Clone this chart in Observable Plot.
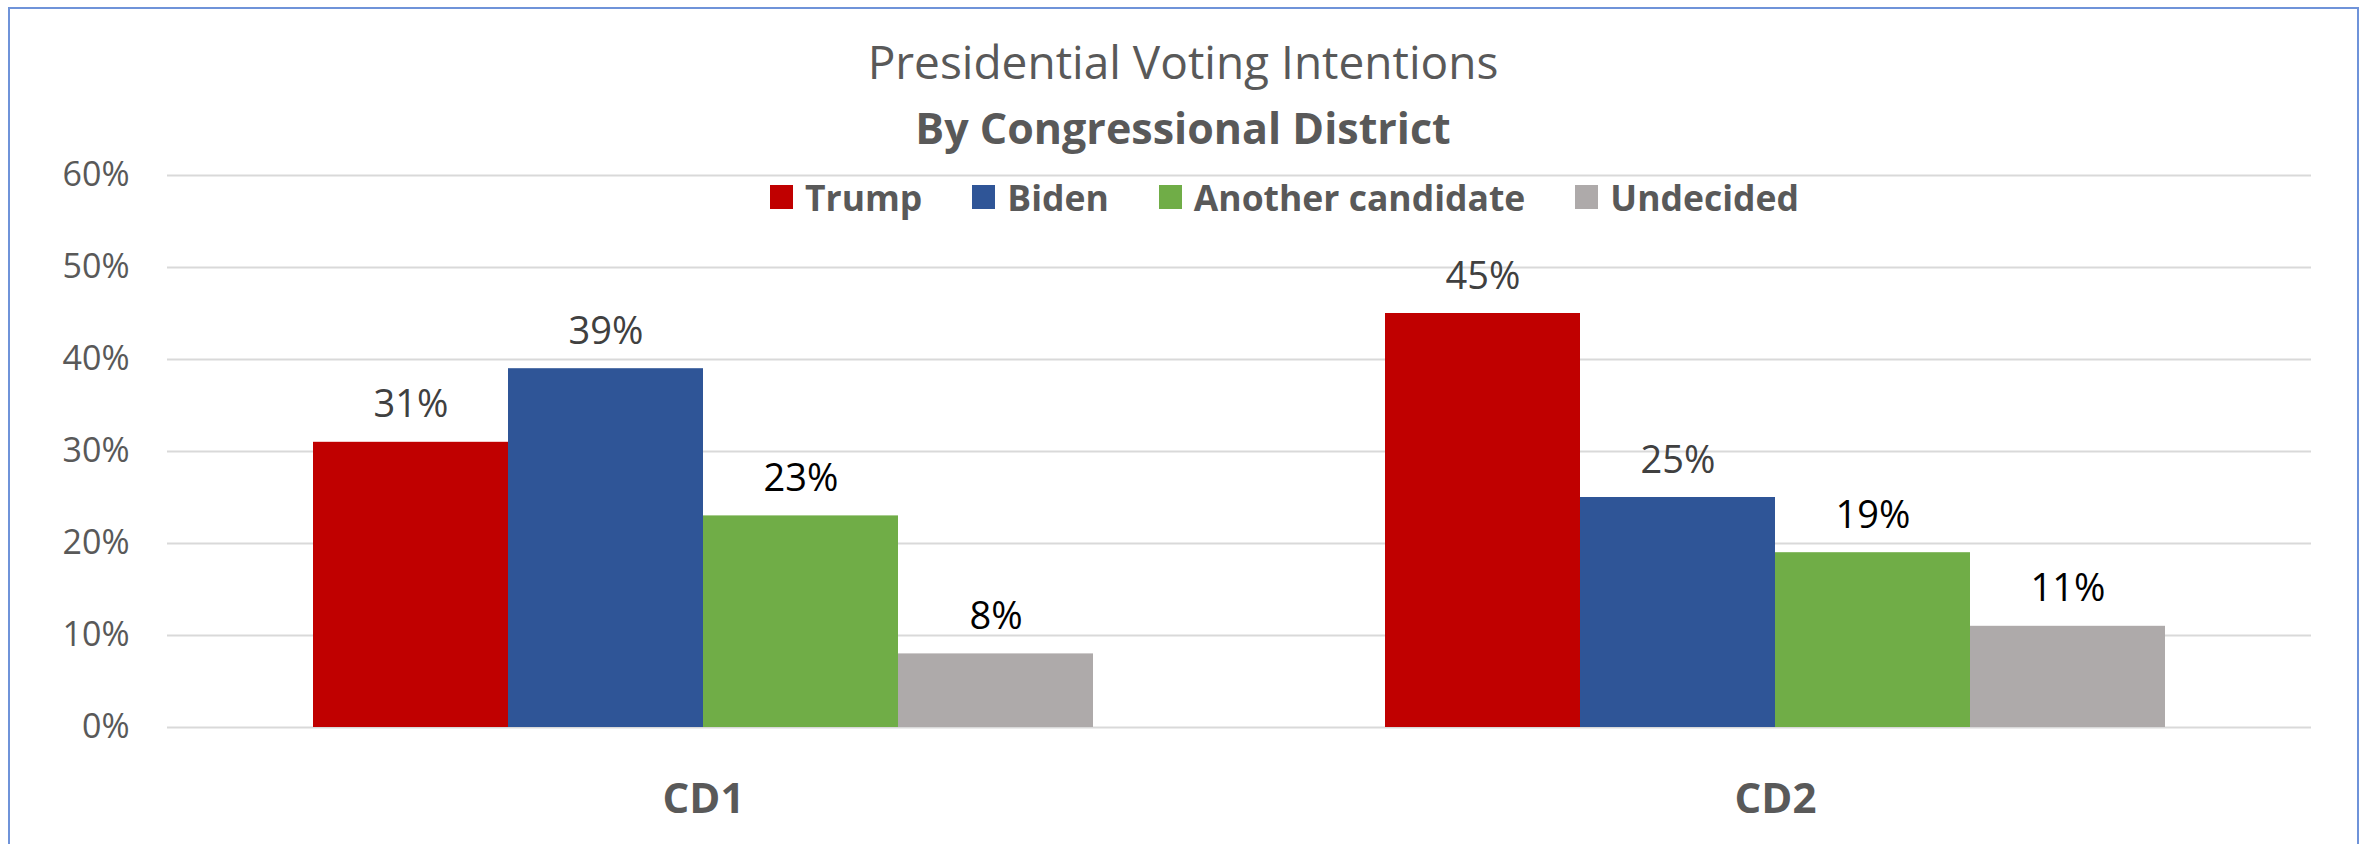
<!DOCTYPE html>
<html>
<head>
<meta charset="utf-8">
<script src="https://cdn.jsdelivr.net/npm/d3@7"></script>
<script src="https://cdn.jsdelivr.net/npm/@observablehq/plot@0.6"></script>
<style>
  html, body { margin: 0; padding: 0; background: #fff; }
  #wrap { position: relative; width: 2367px; height: 844px; overflow: hidden; font-family: "Open Sans", sans-serif; background: #fff; }
  #frame { position: absolute; left: 8px; top: 7px; width: 2351px; height: 900px; border: 2px solid #6f93d9; box-sizing: border-box; pointer-events: none; }
  #chart { position: absolute; left: 0; top: 0; }
  .title { position: absolute; left: 0; width: 2366px; text-align: center; color: #595959; white-space: nowrap; }
  #t1 { top: 38px; font-size: 46px; line-height: 46px; font-weight: 400; }
  #t2 { top: 106px; font-size: 43px; line-height: 43px; font-weight: 700; }
  #legend { position: absolute; left: 770px; top: 179px; display: flex; gap: 50px; font-size: 35.5px; line-height: 36px; font-weight: 700; color: #595959; }
  .item { display: flex; align-items: center; gap: 12px; white-space: nowrap; }
  .sw { width: 23px; height: 24px; display: inline-block; }
</style>
</head>
<body>
<div id="wrap">
  <div id="chart"></div>
  <div class="title" id="t1">Presidential Voting Intentions</div>
  <div class="title" id="t2">By Congressional District</div>
  <div id="legend"></div>
  <div id="frame"></div>
</div>
<script>
// ---- data ----
const districts = ["CD1", "CD2"];
const candidates = ["Trump", "Biden", "Another candidate", "Undecided"];
const cd1Values = [0.31, 0.39, 0.23, 0.08];
const cd2Values = [0.45, 0.25, 0.19, 0.11];
const yTicks = [0, 0.1, 0.2, 0.3, 0.4, 0.5, 0.6];

// ---- styles ----
const barColors = ["#C00000", "#2F5597", "#70AD47", "#AEAAAA"];
const labelColors = ["#404040", "#404040", "#000000", "#000000"];

const seriesByDistrict = { CD1: cd1Values, CD2: cd2Values };
const rows = [];
districts.forEach(d => {
  candidates.forEach((c, i) => rows.push({ district: d, candidate: c, value: seriesByDistrict[d][i] }));
});
const labelColorOf = Object.fromEntries(candidates.map((c, i) => [c, labelColors[i]]));

const chart = Plot.plot({
  width: 2367,
  height: 844,
  marginLeft: 167,
  marginRight: 56,
  marginTop: 175,
  marginBottom: 117,
  style: { fontFamily: "'Open Sans', sans-serif", background: "transparent", color: "#595959" },
  fx: { domain: districts, padding: 0, label: null },
  x: { domain: candidates, paddingInner: 0, paddingOuter: 0.7475, axis: null },
  y: { domain: [0, 0.6], label: null },
  color: { domain: candidates, range: barColors },
  marks: [
    Plot.gridY(yTicks, { stroke: "#d9d9d9", strokeOpacity: 1, strokeWidth: 2 }),
    Plot.barY(rows, { fx: "district", x: "candidate", y: "value", fill: "candidate", inset: 0 }),
    Plot.text(rows, {
      fx: "district", x: "candidate", y: "value",
      text: d => d3.format(".0%")(d.value),
      fill: d => labelColorOf[d.candidate],
      lineAnchor: "bottom", dy: -25, fontSize: 38
    }),
    Plot.axisY(yTicks, { tickFormat: d3.format(".0%"), tickSize: 0, tickPadding: 38, fontSize: 34, color: "#595959", label: null }),
    Plot.axisFx({ anchor: "bottom", tickSize: 0, tickPadding: 56, fontSize: 42, fontWeight: "bold", color: "#595959", label: null })
  ]
});
document.getElementById("chart").appendChild(chart);

const legend = document.getElementById("legend");
candidates.forEach((c, i) => {
  const item = document.createElement("div");
  item.className = "item";
  const sw = document.createElement("span");
  sw.className = "sw";
  sw.style.background = barColors[i];
  const tx = document.createElement("span");
  tx.textContent = c;
  item.appendChild(sw);
  item.appendChild(tx);
  legend.appendChild(item);
});
</script>
</body>
</html>
